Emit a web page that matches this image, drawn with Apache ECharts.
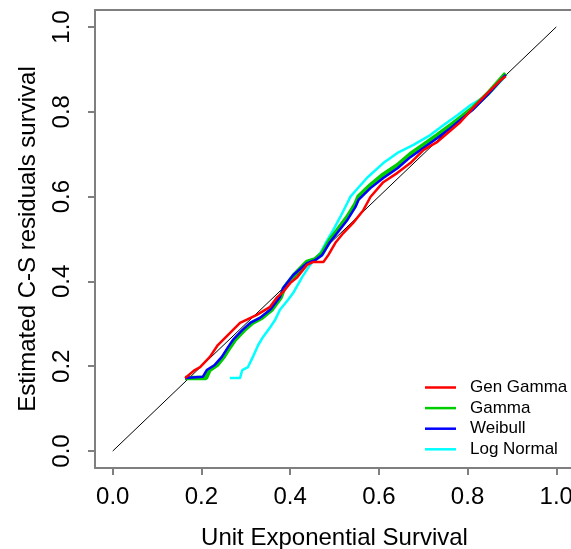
<!DOCTYPE html>
<html>
<head>
<meta charset="utf-8">
<script src="https://cdn.jsdelivr.net/npm/echarts@6/dist/echarts.min.js"></script>
<style>html,body{margin:0;padding:0;background:#fff}#c{width:571px;height:549px}</style>
</head>
<body>
<div id="c"></div>
<script>
var tickValues = [0, 0.2, 0.4, 0.6, 0.8, 1.0];
var tickLabels = ['0.0', '0.2', '0.4', '0.6', '0.8', '1.0'];
var seriesNames = ['Gen Gamma', 'Gamma', 'Weibull', 'Log Normal'];

var refX = [0, 1];
var refY = [0, 1];

var genGammaX = [0.163,0.185,0.197,0.219,0.237,0.264,0.287,0.325,0.355,0.371,0.384,0.4,0.416,0.438,0.452,0.475,0.486,0.502,0.52,0.542,0.565,0.581,0.61,0.642,0.671,0.701,0.732,0.755,0.784,0.814,0.845,0.875,0.886];
var genGammaY = [0.172,0.191,0.198,0.222,0.25,0.278,0.302,0.321,0.34,0.363,0.375,0.396,0.41,0.439,0.446,0.446,0.462,0.491,0.514,0.538,0.568,0.599,0.634,0.656,0.679,0.71,0.729,0.75,0.776,0.811,0.844,0.875,0.884];

var gammaX = [0.163,0.21,0.218,0.235,0.25,0.264,0.275,0.296,0.314,0.336,0.358,0.379,0.386,0.409,0.438,0.456,0.472,0.49,0.506,0.529,0.547,0.554,0.581,0.61,0.642,0.671,0.701,0.732,0.762,0.784,0.811,0.845,0.886];
var gammaY = [0.172,0.172,0.191,0.203,0.222,0.245,0.262,0.285,0.302,0.314,0.333,0.363,0.384,0.415,0.446,0.452,0.466,0.498,0.52,0.552,0.582,0.6,0.627,0.652,0.674,0.7,0.722,0.745,0.768,0.786,0.808,0.842,0.89];

var weibullX = [0.163,0.203,0.212,0.23,0.246,0.26,0.271,0.292,0.31,0.332,0.355,0.377,0.384,0.407,0.438,0.456,0.472,0.49,0.506,0.529,0.547,0.554,0.581,0.61,0.642,0.671,0.701,0.732,0.762,0.784,0.811,0.845,0.886];
var weibullY = [0.172,0.175,0.191,0.203,0.222,0.245,0.262,0.285,0.302,0.314,0.333,0.363,0.384,0.415,0.443,0.45,0.462,0.493,0.514,0.545,0.575,0.592,0.62,0.644,0.667,0.693,0.715,0.738,0.762,0.781,0.804,0.84,0.887];

var logNormalX = [0.264,0.287,0.292,0.305,0.316,0.328,0.339,0.355,0.366,0.377,0.395,0.407,0.427,0.445,0.468,0.484,0.497,0.513,0.529,0.536,0.551,0.574,0.61,0.642,0.678,0.716,0.746,0.777,0.807,0.83,0.845,0.875,0.882];
var logNormalY = [0.172,0.172,0.191,0.198,0.222,0.25,0.269,0.292,0.309,0.333,0.356,0.373,0.41,0.439,0.467,0.498,0.521,0.552,0.585,0.6,0.618,0.645,0.679,0.703,0.722,0.745,0.769,0.792,0.816,0.83,0.84,0.872,0.88];

function pairs(xs, ys) { return xs.map(function (x, i) { return [x, ys[i]]; }); }

var FONT = '"Liberation Sans", Arial, sans-serif';
function box(show) { return { show: show, onZero: false, lineStyle: { color: '#7f7f7f', width: 2 } }; }

var chart = echarts.init(document.getElementById('c'), null, { renderer: 'canvas' });
chart.setOption({
  animation: false,
  backgroundColor: '#ffffff',
  textStyle: { fontFamily: FONT },
  grid: { left: 95, top: 10, width: 479, height: 458, containLabel: false, outerBoundsMode: 'none' },
  legend: {
    show: true,
    data: seriesNames,
    orient: 'vertical',
    left: 420,
    top: 374,
    icon: 'rect',
    itemWidth: 31,
    itemHeight: 2.5,
    itemGap: 3.6,
    textStyle: { fontFamily: FONT, fontSize: 17, lineHeight: 17, color: '#000', padding: [0, 0, 0, 9] }
  },
  xAxis: [{
    type: 'value', min: -0.04, max: 1.04, position: 'bottom',
    name: 'Unit Exponential Survival', nameLocation: 'middle', nameGap: 58,
    nameTextStyle: { fontFamily: FONT, fontSize: 24, color: '#000' },
    axisLine: box(true),
    axisTick: { show: true, customValues: tickValues, length: 7, inside: false, lineStyle: { color: '#7f7f7f', width: 2 } },
    axisLabel: { customValues: tickValues, formatter: function (v) { return v.toFixed(1); }, fontFamily: FONT, fontSize: 24, color: '#000', margin: 17 },
    splitLine: { show: false }
  }, {
    type: 'value', min: -0.04, max: 1.04, position: 'top',
    axisLine: box(true), axisTick: { show: false }, axisLabel: { show: false }, splitLine: { show: false }
  }],
  yAxis: [{
    type: 'value', min: -0.04, max: 1.04, position: 'left',
    name: 'Estimated C-S residuals survival', nameLocation: 'middle', nameGap: 55, nameRotate: 90,
    nameTextStyle: { fontFamily: FONT, fontSize: 24, color: '#000' },
    axisLine: box(true),
    axisTick: { show: true, customValues: tickValues, length: 7, inside: false, lineStyle: { color: '#7f7f7f', width: 2 } },
    axisLabel: { customValues: tickValues, rotate: 90, formatter: function (v) { return v.toFixed(1); }, fontFamily: FONT, fontSize: 24, color: '#000', margin: 21 },
    splitLine: { show: false }
  }, {
    type: 'value', min: -0.04, max: 1.04, position: 'right',
    axisLine: box(false), axisTick: { show: false }, axisLabel: { show: false }, splitLine: { show: false }
  }],
  series: [
    { name: 'ref', type: 'line', data: pairs(refX, refY), symbol: 'none', silent: true,
      lineStyle: { color: '#000', width: 1 }, z: 1 },
    { name: 'Log Normal', type: 'line', data: pairs(logNormalX, logNormalY), symbol: 'none',
      color: '#00FFFF', lineStyle: { color: '#00FFFF', width: 2.5 }, z: 2 },
    { name: 'Gamma', type: 'line', data: pairs(gammaX, gammaY), symbol: 'none',
      color: '#00CD00', lineStyle: { color: '#00CD00', width: 4.5 }, z: 3 },
    { name: 'Weibull', type: 'line', data: pairs(weibullX, weibullY), symbol: 'none',
      color: '#0000FF', lineStyle: { color: '#0000FF', width: 2.5 }, z: 4 },
    { name: 'Gen Gamma', type: 'line', data: pairs(genGammaX, genGammaY), symbol: 'none',
      color: '#FF0000', lineStyle: { color: '#FF0000', width: 2.5 }, z: 5 }
  ]
});
</script>
</body>
</html>
